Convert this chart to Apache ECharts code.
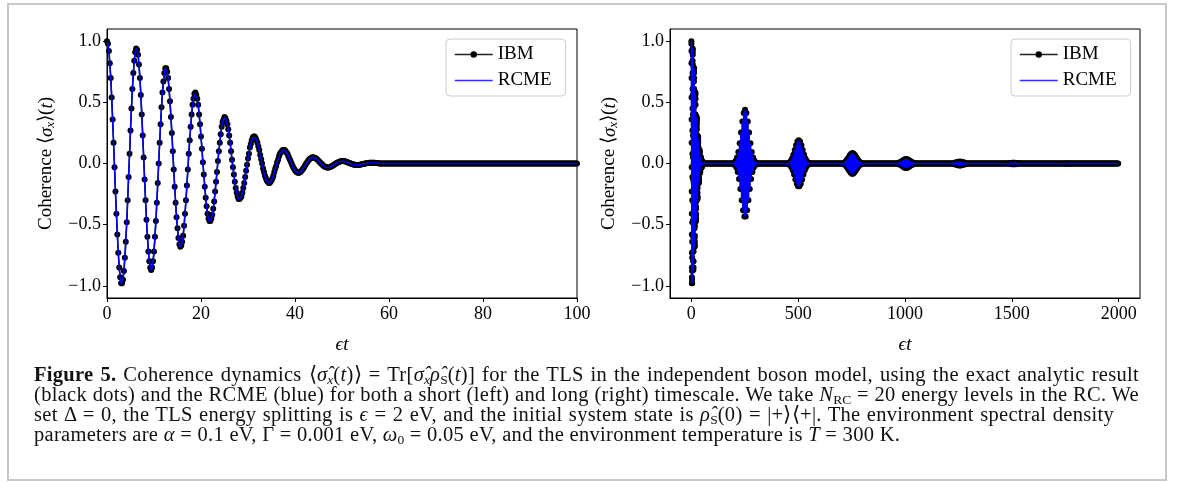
<!DOCTYPE html>
<html><head><meta charset="utf-8">
<script src="https://cdn.jsdelivr.net/npm/echarts@6/dist/echarts.min.js"></script>
<style>
html,body{margin:0;padding:0;background:#fff;}
#wrap{position:relative;width:1177px;height:482px;overflow:hidden;}
#chart{position:absolute;left:0;top:0;width:1177px;height:482px;}
#frame{position:absolute;left:7px;top:3px;width:1156px;height:474px;border:2px solid #c8c8c8;pointer-events:none;}
#cap{position:absolute;left:34px;top:364px;width:1105px;font-family:"Liberation Serif","Times New Roman",serif;font-size:20.5px;line-height:20px;color:#111;letter-spacing:0.3px;}
#cap div{white-space:nowrap;}
#cap sub{font-size:13.5px;line-height:0;vertical-align:-3px;letter-spacing:0;}
</style></head>
<body>
<div id="wrap">
<div id="chart"></div>
<div id="frame"></div>
<div id="cap">
<div class="j" data-w="1105"><span><b>Figure 5.</b> Coherence dynamics ⟨<i>σ̂</i><sub><i>x</i></sub>(<i>t</i>)⟩ = Tr[<i>σ̂</i><sub><i>x</i></sub><i>ρ̂</i><sub>S</sub>(<i>t</i>)] for the TLS in the independent boson model, using the exact analytic result</span></div>
<div class="j" data-w="1105"><span>(black dots) and the RCME (blue) for both a short (left) and long (right) timescale. We take <i>N</i><sub>RC</sub> = 20 energy levels in the RC. We</span></div>
<div class="j" data-w="1080"><span>set Δ = 0, the TLS energy splitting is <i>ϵ</i> = 2 eV, and the initial system state is <i>ρ̂</i><sub>S</sub>(0) = |+⟩⟨+|. The environment spectral density</span></div>
<div><span>parameters are <i>α</i> = 0.1 eV, Γ = 0.001 eV, <i>ω</i><sub>0</sub> = 0.05 eV, and the environment temperature is <i>T</i> = 300 K.</span></div>
</div>
</div>
<script>
// ---------------- data ----------------
// short-time coherence <sigma_x>(t), sampled every 0.2 in eps*t (t = 0 ... 100)
const shortStep = 0.2;
const ibmShort = [
1.00,0.98,0.92,0.82,0.70,0.54,0.36,0.17,-0.03,-0.23,-0.41,-0.58,-0.73,-0.85,-0.93,-0.98,-0.98,-0.95,-0.88,-0.77,-0.64,-0.48,-0.30,-0.11,0.08,0.27,0.45,0.61,0.74,0.84,0.91,0.94,
0.93,0.89,0.81,0.70,0.56,0.40,0.23,0.05,-0.13,-0.30,-0.46,-0.60,-0.72,-0.80,-0.85,-0.87,-0.85,-0.80,-0.72,-0.60,-0.47,-0.32,-0.16,0.00,0.17,0.32,0.46,0.58,0.67,0.74,0.78,
0.78,0.75,0.70,0.61,0.51,0.38,0.25,0.10,-0.05,-0.19,-0.32,-0.44,-0.53,-0.61,-0.66,-0.68,-0.67,-0.64,-0.59,-0.51,-0.41,-0.30,-0.18,-0.05,0.08,0.19,0.30,0.40,0.48,0.53,0.57,0.58,
0.56,0.53,0.48,0.40,0.32,0.22,0.12,0.01,-0.09,-0.19,-0.28,-0.35,-0.41,-0.45,-0.47,-0.47,-0.45,-0.42,-0.37,-0.31,-0.23,-0.15,-0.07,0.02,0.10,0.17,0.24,0.30,0.34,0.36,0.38,
0.37,0.35,0.32,0.28,0.23,0.17,0.10,0.03,-0.03,-0.09,-0.15,-0.20,-0.24,-0.27,-0.29,-0.29,-0.28,-0.27,-0.24,-0.20,-0.16,-0.11,-0.06,-0.01,0.04,0.08,0.13,0.16,0.19,0.21,0.22,0.22,
0.21,0.19,0.17,0.14,0.11,0.07,0.035,0.00,-0.04,-0.07,-0.10,-0.12,-0.14,-0.15,-0.16,-0.16,-0.15,-0.14,-0.12,-0.10,-0.07,-0.04,-0.02,0.01,0.03,0.06,0.08,0.09,0.10,0.11,0.11,
0.11,0.10,0.09,0.08,0.06,0.04,0.025,0.006,-0.012,-0.029,-0.043,-0.056,-0.065,-0.072,-0.076,-0.076,-0.073,-0.067,-0.060,-0.050,-0.038,-0.026,-0.013,-0.001,0.011,0.022,0.032,0.039,0.045,0.049,0.051,
0.050,0.047,0.043,0.037,0.031,0.023,0.015,0.006,-0.002,-0.009,-0.016,-0.022,-0.027,-0.030,-0.032,-0.032,-0.032,-0.030,-0.027,-0.023,-0.018,-0.013,-0.008,-0.002,0.003,0.007,0.011,0.015,0.017,0.019,0.020,0.020,
0.019,0.018,0.016,0.013,0.010,0.007,0.004,0.001,-0.003,-0.005,-0.008,-0.010,-0.011,-0.012,-0.013,-0.012,-0.012,-0.011,-0.009,-0.007,-0.005,-0.003,-0.002,0.000,0.002,0.004,0.005,0.006,0.007,0.007,0.007,
0.007,0.007,0.006,0.005,0.004,0.003,0.002,0.001,0,
0,0,0,0,0,0,0,0,0,0,
0,0,0,0,0,0,0,0,0,0,
0,0,0,0,0,0,0,0,0,0,
0,0,0,0,0,0,0,0,0,0,
0,0,0,0,0,0,0,0,0,0,
0,0,0,0,0,0,0,0,0,0,
0,0,0,0,0,0,0,0,0,0,
0,0,0,0,0,0,0,0,0,0,
0,0,0,0,0,0,0,0,0,0,
0,0,0,0,0,0,0,0,0,0,
0,0,0,0,0,0,0,0,0,0,
0,0,0,0,0,0,0,0,0,0,
0,0,0,0,0,0,0,0,0,0,
0,0,0,0,0,0,0,0,0,0,
0,0,0,0,0,0,0,0,0,0,
0,0,0,0,0,0,0,0,0,0,
0,0,0,0,0,0,0,0,0,0,
0,0,0,0,0,0,0,0,0,0,
0,0,0,0,0,0,0,0,0,0,
0,0,0,0,0,0,0,0,0,0,
0,0,0,0,0,0,0,0,0
];
// RCME curve coincides with the IBM curve at plotted resolution
const rcmeShort = ibmShort;

// long-time coherence after eps*t = 50: sampled every half period (pi), starting at index 16
const longStart = 16;
const longStep = Math.PI;
const ibmLong = [
0.020,-0.012,0.007,-0.004,0.002,
0,0,0,0,0,0,0,0,0,0, 0,0,0,0,0,0,0,0,0,0, 0,0,0,0,0,0,0,0,0,0, 0,0,0,0,0,0,0,0,0,0,
-0.002,0.003,-0.005,0.009,-0.014,0.022,-0.033,0.049,-0.069,0.095,-0.127,0.165,-0.208,0.254,-0.300,0.344,-0.383,0.414,-0.433,0.440,-0.433,0.414,-0.383,0.344,-0.300,0.254,-0.208,0.165,-0.127,0.095,-0.069,0.049,-0.033,0.022,-0.014,0.009,-0.005,0.003,-0.002,
0,0,0,0,0,0,0,0,0,0, 0,0,0,0,0,0,0,0,0,0, 0,0,0,0,0,0,0,0,0,0, 0,0,0,0,0,0,0,0,0,0, 0,0,0,
-0.002,0.004,-0.006,0.009,-0.014,0.021,-0.030,0.041,-0.055,0.071,-0.090,0.110,-0.130,0.149,-0.166,0.179,-0.187,0.190,-0.187,0.179,-0.166,0.149,-0.130,0.110,-0.090,0.071,-0.055,0.041,-0.030,0.021,-0.014,0.009,-0.006,0.004,-0.002,
0,0,0,0,0,0,0,0,0,0, 0,0,0,0,0,0,0,0,0,0, 0,0,0,0,0,0,0,0,0,0, 0,0,0,0,0,0,0,0,0,0, 0,0,0,0,0,0,0,
-0.003,0.004,-0.006,0.009,-0.013,0.018,-0.025,0.032,-0.040,0.049,-0.058,0.067,-0.074,0.080,-0.084,0.085,-0.084,0.080,-0.074,0.067,-0.058,0.049,-0.040,0.032,-0.025,0.018,-0.013,0.009,-0.006,0.004,-0.003,
0,0,0,0,0,0,0,0,0,0, 0,0,0,0,0,0,0,0,0,0, 0,0,0,0,0,0,0,0,0,0, 0,0,0,0,0,0,0,0,0,0, 0,0,0,0,0,0,0,0,0,0, 0,
-0.003,0.004,-0.006,0.008,-0.011,0.014,-0.017,0.021,-0.025,0.029,-0.032,0.035,-0.036,0.037,-0.036,0.035,-0.032,0.029,-0.025,0.021,-0.017,0.014,-0.011,0.008,-0.006,0.004,-0.003,
0,0,0,0,0,0,0,0,0,0, 0,0,0,0,0,0,0,0,0,0, 0,0,0,0,0,0,0,0,0,0, 0,0,0,0,0,0,0,0,0,0, 0,0,0,0,0,0,0,0,0,0, 0,0,0,0,0,
-0.003,0.003,-0.005,0.006,-0.008,0.009,-0.011,0.013,-0.014,0.015,-0.016,0.016,-0.016,0.015,-0.014,0.013,-0.011,0.009,-0.008,0.006,-0.005,0.003,-0.003,
0,0,0,0,0,0,0,0,0,0, 0,0,0,0,0,0,0,0,0,0, 0,0,0,0,0,0,0,0,0,0, 0,0,0,0,0,0,0,0,0,0, 0,0,0,0,0,0,0,0,0,0, 0,0,0,0,0,0,0,0,0,0,
0.003,-0.003,0.004,-0.005,0.005,-0.006,0.007,-0.007,0.007,-0.007,0.007,-0.006,0.005,-0.005,0.004,-0.003,0.003,
0,0,0,0,0,0,0,0,0,0, 0,0,0,0,0,0,0,0,0,0, 0,0,0,0,0,0,0,0,0,0, 0,0,0,0,0,0,0,0,0,0, 0,0,0,0,0,0,0,0,0,0, 0,0,0,0,0,0,0,0,0,0, 0,0,0,0,0,0,
-0.002,0.002,-0.003,0.003,-0.003,0.003,-0.003,0.003,-0.003,0.002,-0.002,
0,0,0,0,0,0,0,0,0,0, 0,0,0,0,0,0,0,0,0,0, 0,0,0,0,0,0,0,0,0,0, 0,0,0,0,0,0,0,0,0,0, 0,0,0,0,0,0,0,0,0,0, 0,0,0,0,0,0,0,0,0,0, 0,0,0,0,0,0,0,0,0,0, 0
];
const rcmeLong = ibmLong;
const longJoinIndex = 251; // short-time samples used up to eps*t = 50 in the long plot

const xTicksShort = [0, 20, 40, 60, 80, 100];
const xTicksLong = [0, 500, 1000, 1500, 2000];
const yTicks = [-1, -0.5, 0, 0.5, 1];
const seriesNames = ['IBM', 'RCME'];

// ---------------- build ----------------
function shortPairs(arr, n) { return arr.slice(0, n).map((y, i) => [Math.round(i * shortStep * 10) / 10, y]); }
function longPairs(arr) { return arr.map((y, k) => [(k + longStart) * longStep, y]); }
const leftIBM = shortPairs(ibmShort, ibmShort.length);
const leftRCME = shortPairs(rcmeShort, rcmeShort.length);
const rightIBM = shortPairs(ibmShort, longJoinIndex).concat(longPairs(ibmLong));
const rightRCME = shortPairs(rcmeShort, longJoinIndex).concat(longPairs(rcmeLong));

const FONT = '"Liberation Serif","Times New Roman",serif';
const tick = { fontFamily: FONT, fontSize: 18, color: '#000' };
const txt = { fontFamily: FONT, fontSize: 19, color: '#000' };
const minus = v => (v < 0 ? '\u2212' : '') + Math.abs(v);
const yFmt = v => (v < 0 ? '\u2212' : '') + Math.abs(v).toFixed(1);

function xAxis(gi, min, max, ticks) {
  return {
    type: 'value', gridIndex: gi, min: min, max: max,
    name: '{i|ϵt}', nameLocation: 'middle', nameGap: 37,
    nameTextStyle: Object.assign({}, txt, { rich: { i: Object.assign({}, txt, { fontStyle: 'italic' }) } }),
    axisLine: { show: true, onZero: false, lineStyle: { color: '#000', width: 1 } },
    axisTick: { show: true, length: 4, customValues: ticks, lineStyle: { color: '#000', width: 1 } },
    axisLabel: Object.assign({}, tick, { customValues: ticks, margin: 7, formatter: v => minus(v) }),
    splitLine: { show: false }
  };
}
function yAxis(gi) {
  return {
    type: 'value', gridIndex: gi, min: -1.1, max: 1.1,
    name: '{a|Coherence ⟨}{i|σ}{s|x}{a|⟩(}{i|t}{a|)}', nameLocation: 'middle', nameGap: 50, nameRotate: 90,
    nameTextStyle: Object.assign({}, txt, { rich: {
      a: Object.assign({}, txt),
      i: Object.assign({}, txt, { fontStyle: 'italic' }),
      s: Object.assign({}, txt, { fontSize: 13, fontStyle: 'italic', padding: [8, 0, 0, 0] })
    } }),
    axisLine: { show: true, onZero: false, lineStyle: { color: '#000', width: 1 } },
    axisTick: { show: true, length: 4, customValues: yTicks, lineStyle: { color: '#000', width: 1 } },
    axisLabel: Object.assign({}, tick, { customValues: yTicks, margin: 6, formatter: yFmt }),
    splitLine: { show: false }
  };
}
function ibm(gi, data) {
  return { name: seriesNames[0], type: 'line', xAxisIndex: gi, yAxisIndex: gi, data: data,
    symbol: 'circle', symbolSize: 6, showSymbol: true, showAllSymbol: true, clip: false, silent: true,
    itemStyle: { color: '#000' }, lineStyle: { color: '#000', width: 1.5 }, z: 2, animation: false };
}
function rcme(gi, data) {
  return { name: seriesNames[1], type: 'line', xAxisIndex: gi, yAxisIndex: gi, data: data,
    symbol: 'none', showSymbol: false, clip: false, silent: true,
    itemStyle: { color: '#0000ff' }, lineStyle: { color: '#0000ff', width: 1.5 }, z: 3, animation: false };
}
function legend(left) {
  return {
    data: [
      { name: seriesNames[0], itemStyle: { color: '#000' }, lineStyle: { color: '#222', width: 1.5 } },
      { name: seriesNames[1], itemStyle: { opacity: 0, borderWidth: 0 }, lineStyle: { color: '#3030ff', width: 1.5 } }
    ],
    orient: 'vertical', left: left, top: 39, itemWidth: 38, itemHeight: 8, itemGap: 7,
    padding: [6, 14, 6, 8], backgroundColor: 'rgba(255,255,255,0.8)', borderColor: '#cccccc', borderWidth: 1, borderRadius: 4,
    textStyle: Object.assign({}, txt), selectedMode: false
  };
}

const chart = echarts.init(document.getElementById('chart'));
chart.setOption({
  animation: false,
  backgroundColor: '#fff',
  grid: [
    { left: 107, top: 29, width: 470, height: 269, show: true, borderColor: '#000', borderWidth: 1, backgroundColor: 'transparent' },
    { left: 670, top: 29, width: 470, height: 269, show: true, borderColor: '#000', borderWidth: 1, backgroundColor: 'transparent' }
  ],
  xAxis: [ xAxis(0, 0, 100, xTicksShort), xAxis(1, -100, 2100, xTicksLong) ],
  yAxis: [ yAxis(0), yAxis(1) ],
  legend: [ legend(446), legend(1011) ],
  series: [ ibm(0, leftIBM), rcme(0, leftRCME), ibm(1, rightIBM), rcme(1, rightRCME) ]
});

// justify caption lines by distributing the remaining width over the word gaps
document.querySelectorAll('#cap .j').forEach(el => {
  const span = el.firstElementChild;
  const target = +el.dataset.w;
  const natural = span.getBoundingClientRect().width;
  const gaps = (span.textContent.match(/ /g) || []).length;
  if (gaps > 0) span.style.wordSpacing = ((target - natural) / gaps) + 'px';
});
</script>
</body></html>
